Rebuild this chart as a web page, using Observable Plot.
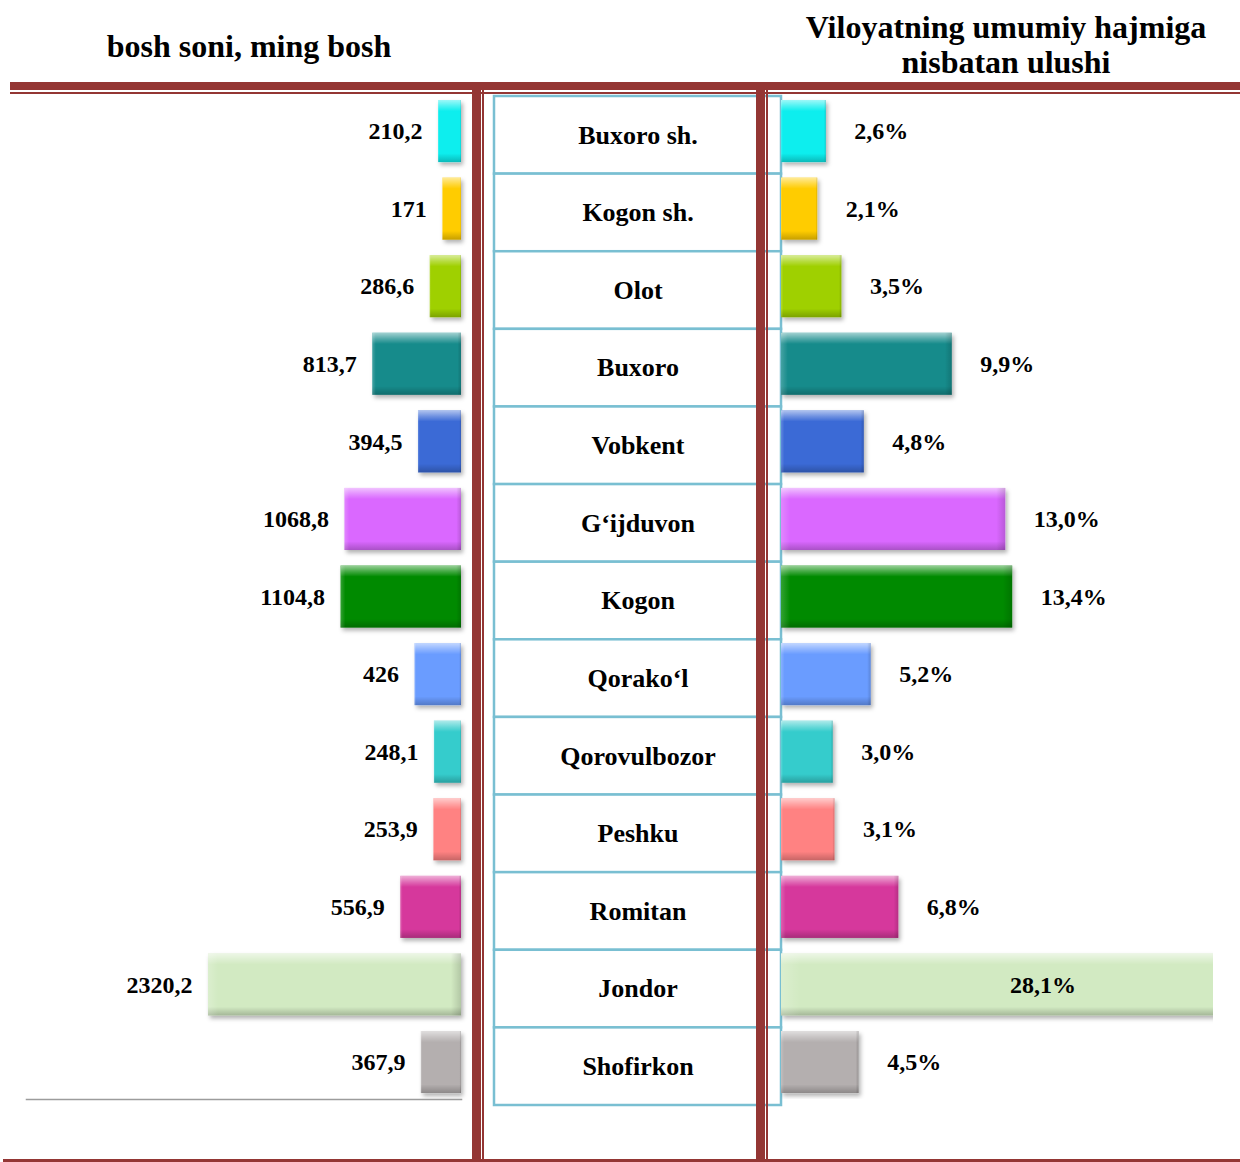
<!DOCTYPE html>
<html>
<head>
<meta charset="utf-8">
<script src="https://cdn.jsdelivr.net/npm/d3@7"></script>
<script src="https://cdn.jsdelivr.net/npm/@observablehq/plot@0.6"></script>
<style>
  html, body { margin: 0; padding: 0; background: #fff; }
  #page { position: relative; width: 1240px; height: 1162px; overflow: hidden; background: #fff; font-family: "Liberation Serif", "Times New Roman", serif; }
  .hdr { position: absolute; font-weight: bold; font-size: 32px; color: #000; text-align: center; white-space: nowrap; }
  .red { position: absolute; background: #943634; z-index: 5; }
  .plotbox { position: absolute; top: 0; }
  .plotbox svg { display: block; }
</style>
</head>
<body>
<div id="page">
  <svg width="0" height="0" style="position:absolute">
    <defs>
      <linearGradient id="bevelV" x1="0" y1="0" x2="0" y2="1">
        <stop offset="0" stop-color="#fff" stop-opacity="0.6"/>
        <stop offset="0.1" stop-color="#fff" stop-opacity="0.25"/>
        <stop offset="0.18" stop-color="#fff" stop-opacity="0"/>
        <stop offset="0.86" stop-color="#000" stop-opacity="0"/>
        <stop offset="1" stop-color="#000" stop-opacity="0.22"/>
      </linearGradient>
      <linearGradient id="bevelH" x1="0" y1="0" x2="1" y2="0">
        <stop offset="0" stop-color="#fff" stop-opacity="0.2"/>
        <stop offset="0.04" stop-color="#fff" stop-opacity="0"/>
        <stop offset="0.96" stop-color="#000" stop-opacity="0"/>
        <stop offset="1" stop-color="#000" stop-opacity="0.15"/>
      </linearGradient>
      <filter id="shadow" x="-10%" y="-10%" width="125%" height="135%">
        <feDropShadow dx="2" dy="3" stdDeviation="2" flood-color="#000" flood-opacity="0.3"/>
      </filter>
    </defs>
  </svg>

  <div class="hdr" style="left:49px; width:400px; top:28px; line-height:37px;">bosh soni, ming bosh</div>
  <div class="hdr" style="left:756px; width:500px; top:10px; line-height:35px;">Viloyatning umumiy hajmiga<br>nisbatan ulushi</div>

  <div id="left" class="plotbox" style="left:0px;"></div>
  <div id="center" class="plotbox" style="left:483px;"></div>
  <div id="right" class="plotbox" style="left:779px;"></div>

  <div class="red" style="left:10px; top:82px; width:1230px; height:8px;"></div>
  <div class="red" style="left:10px; top:92px; width:1230px; height:2px;"></div>
  <div class="red" style="left:472px; top:82px; width:9px; height:1080px;"></div>
  <div class="red" style="left:482px; top:82px; width:1.5px; height:1080px;"></div>
  <div class="red" style="left:756px; top:82px; width:9px; height:1080px;"></div>
  <div class="red" style="left:766px; top:82px; width:1.5px; height:1080px;"></div>
  <div class="red" style="left:3px; top:1159px; width:1237px; height:3px;"></div>
</div>

<script>
// ---- data ----
const districts = ["Buxoro sh.", "Kogon sh.", "Olot", "Buxoro", "Vobkent", "G\u2018ijduvon", "Kogon", "Qorako\u2018l", "Qorovulbozor", "Peshku", "Romitan", "Jondor", "Shofirkon"];
const heads = [210.2, 171, 286.6, 813.7, 394.5, 1068.8, 1104.8, 426, 248.1, 253.9, 556.9, 2320.2, 367.9];
const shares = [2.6, 2.1, 3.5, 9.9, 4.8, 13.0, 13.4, 5.2, 3.0, 3.1, 6.8, 28.1, 4.5];
const colors = ["#10eeee", "#ffcc00", "#9fd000", "#178b8b", "#3a6ad6", "#da68ff", "#058a05", "#6a9cff", "#35cccc", "#ff8282", "#d6399c", "#d2eac2", "#b4afaf"];

const rows = districts.map((name, i) => ({name, heads: heads[i], share: shares[i], color: colors[i]}));

const fmtHeads = v => String(v).replace(".", ",");
const fmtShare = v => v.toFixed(1).replace(".", ",") + "%";

const font = "Liberation Serif";
const H = 1162;
const barY = {domain: districts, range: [84.5, 1108.6], padding: 0.2, round: false, axis: null};
const xMaxLeft = 3989.4;
const xMaxRight = 25.04;

function addShadow(svg) {
  const g = svg.querySelector('g[aria-label="bar"]');
  if (g) g.setAttribute("filter", "url(#shadow)");
  return svg;
}

// ---- left: head counts ----
const left = Plot.plot({
  width: 472, height: H,
  marginLeft: 26, marginRight: 11, marginTop: 84.5, marginBottom: 63,
  style: {background: "transparent", overflow: "visible"},
  x: {domain: [0, xMaxLeft], reverse: true, axis: null},
  y: barY,
  color: {type: "identity"},
  marks: [
    Plot.barX(rows, {x: "heads", y: "name", fill: "color"}),
    Plot.barX(rows, {x: "heads", y: "name", fill: "url(#bevelV)"}),
    Plot.barX(rows, {x: "heads", y: "name", fill: "url(#bevelH)"}),
    Plot.frame({anchor: "bottom", stroke: "#9c9c9c", strokeWidth: 1.5}),
    Plot.text(rows, {x: "heads", y: "name", text: d => fmtHeads(d.heads), textAnchor: "end", dx: -16,
      fontSize: 24, fontWeight: "bold", fontFamily: font, fill: "#000"})
  ]
});
document.getElementById("left").append(addShadow(left));

// ---- center: district table ----
const center = Plot.plot({
  width: 300, height: H,
  marginLeft: 11, marginRight: 2, marginTop: 96, marginBottom: 57,
  style: {background: "transparent", overflow: "visible"},
  x: {domain: ["col"], padding: 0, round: false, axis: null},
  y: {domain: districts, padding: 0, round: false, axis: null},
  marks: [
    Plot.cell(districts, {x: () => "col", y: d => d, fill: "white", stroke: "#79bfd2", strokeWidth: 2.5, inset: 0}),
    Plot.text(districts, {x: () => "col", y: d => d, text: d => d, fontSize: 26, fontWeight: "bold", fontFamily: font, fill: "#000"})
  ]
});
document.getElementById("center").append(center);

// ---- right: share of region ----
const right = Plot.plot({
  width: 461, height: H,
  marginLeft: 2, marginRight: 27, marginTop: 84.5, marginBottom: 63,
  style: {background: "transparent", overflow: "visible"},
  x: {domain: [0, xMaxRight], axis: null},
  y: barY,
  color: {type: "identity"},
  marks: [
    Plot.barX(rows, {x: "share", y: "name", fill: "color", clip: true}),
    Plot.barX(rows, {x: "share", y: "name", fill: "url(#bevelV)", clip: true}),
    Plot.barX(rows, {x: "share", y: "name", fill: "url(#bevelH)", clip: true}),
    Plot.text(rows.filter(d => d.share <= xMaxRight), {x: "share", y: "name", text: d => fmtShare(d.share), textAnchor: "start", dx: 28,
      fontSize: 24, fontWeight: "bold", fontFamily: font, fill: "#000"}),
    Plot.text(rows.filter(d => d.share > xMaxRight), {x: d => d.share / 2, y: "name", text: d => fmtShare(d.share), textAnchor: "middle", dx: 19,
      fontSize: 24, fontWeight: "bold", fontFamily: font, fill: "#000"})
  ]
});
document.getElementById("right").append(addShadow(right));
</script>
</body>
</html>
